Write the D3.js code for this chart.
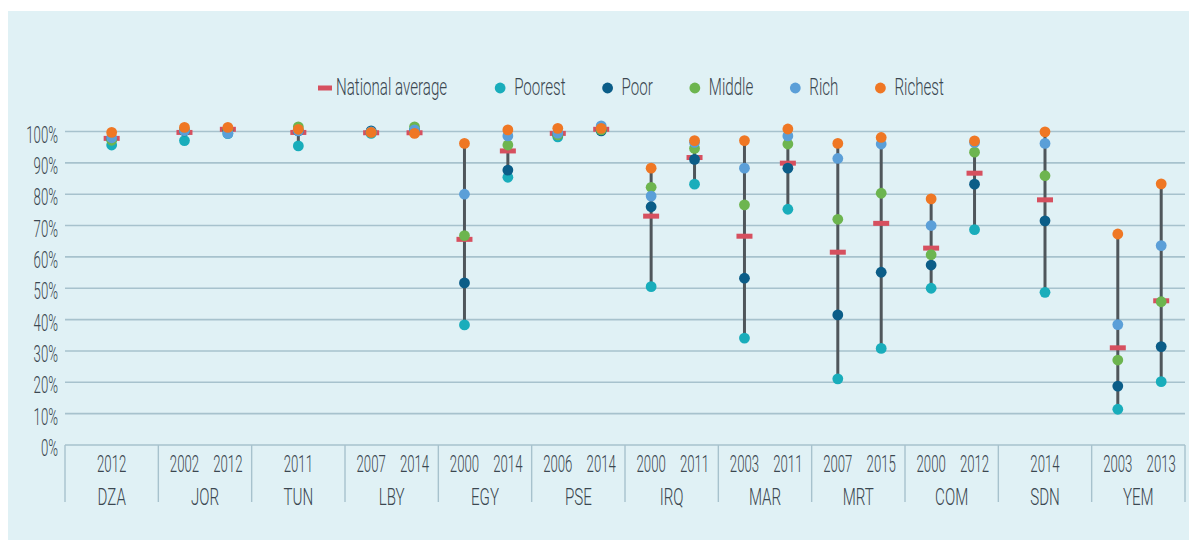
<!DOCTYPE html>
<html>
<head>
<meta charset="utf-8">
<script src="https://cdn.jsdelivr.net/npm/d3@7"></script>
<style>
  html, body { margin: 0; padding: 0; background: #ffffff; }
  svg { display: block; }
  text { font-family: Roboto, "Liberation Sans", sans-serif; font-weight: 300; fill: #3b4750; }
</style>
</head>
<body>
<svg id="chart" width="1189" height="543"></svg>
<script>
// ---------- DATA ----------
const countries = ["DZA","JOR","TUN","LBY","EGY","PSE","IRQ","MAR","MRT","COM","SDN","YEM"];
const countryYears = [["2012"],["2002","2012"],["2011"],["2007","2014"],["2000","2014"],["2006","2014"],
                      ["2000","2011"],["2003","2011"],["2007","2015"],["2000","2012"],["2014"],["2003","2013"]];
// survey order: DZA2012, JOR2002, JOR2012, TUN2011, LBY2007, LBY2014, EGY2000, EGY2014, PSE2006, PSE2014,
// IRQ2000, IRQ2011, MAR2003, MAR2011, MRT2007, MRT2015, COM2000, COM2012, SDN2014, YEM2003, YEM2013
const nationalAverage = [97.8, 99.7, 100.7, 99.7, 99.6, 99.6, 65.6, 93.8, 99.4, 100.7, 73.0, 91.7, 66.6, 89.9, 61.5, 70.7, 62.8, 86.7, 78.2, 31.0, 46.0];
const poorest = [95.7, 97.1, 99.3, 95.4, 99.4, 100.3, 38.3, 85.4, 98.3, 100.5, 50.5, 83.2, 34.1, 75.2, 21.1, 30.8, 50.0, 68.7, 48.7, 11.4, 20.2];
const poor    = [97.5, 100.2, 100.3, 100.2, 100.2, 100.4, 51.7, 87.7, 99.0, 100.2, 76.0, 91.1, 53.2, 88.3, 41.5, 55.1, 57.4, 83.2, 71.5, 18.8, 31.4];
const middle  = [97.2, 100.4, 100.6, 101.5, 99.8, 101.5, 66.8, 95.7, 98.9, 100.5, 82.2, 94.6, 76.6, 96.0, 72.0, 80.3, 60.7, 93.4, 85.9, 27.1, 45.7];
const rich    = [98.0, 100.3, 99.4, 100.2, 99.9, 100.5, 80.0, 98.6, 99.5, 101.8, 79.4, 96.5, 88.3, 98.6, 91.4, 96.0, 70.0, 96.5, 96.2, 38.4, 63.6];
const richest = [99.7, 101.3, 101.3, 100.7, 99.7, 99.4, 96.2, 100.5, 101.0, 101.0, 88.3, 97.1, 97.1, 100.8, 96.2, 98.1, 78.5, 97.0, 99.9, 67.3, 83.3];
const yTicks = [0,10,20,30,40,50,60,70,80,90,100];
const legendLabels = ["National average","Poorest","Poor","Middle","Rich","Richest"];

// ---------- STYLE ----------
const groupColors = {Poorest:"#19adbb", Poor:"#0b5d88", Middle:"#6db54f", Rich:"#5b9fd8", Richest:"#ef7724"};
const avgColor = "#d6505f";
const gridColor = "#a7c2cd";
const SX = 0.63;    // horizontal condensing of word text
const SXN = 0.55;   // horizontal condensing of numeric text
const FS = 24;

const svg = d3.select("#chart");
svg.append("rect").attr("x",8).attr("y",11).attr("width",1181).attr("height",529).attr("fill","#e0f1f5");

const plotLeft = 65, plotRight = 1185, plotTop = 131.5, plotBottom = 445;
const x = d3.scaleBand().domain(countries).range([plotLeft, plotRight]).padding(0);
const y = d3.scaleLinear().domain([0,100]).range([plotBottom, plotTop]);

// build surveys
const surveys = [];
let k = 0;
countries.forEach((c, i) => {
  countryYears[i].forEach(yr => {
    surveys.push({country:c, year:yr, nat:nationalAverage[k],
      vals:{Poorest:poorest[k], Poor:poor[k], Middle:middle[k], Rich:rich[k], Richest:richest[k]}});
    k++;
  });
});
function sx(s) {
  const yrs = countryYears[countries.indexOf(s.country)];
  const b0 = x(s.country), bw = x.bandwidth();
  if (yrs.length === 1) return b0 + bw/2;
  const inner = d3.scalePoint().domain(yrs).range([b0 + bw*0.28, b0 + bw*0.745]);
  return inner(s.year);
}

function label(parent, tx, ty, str, anchor, scaleX) {
  return parent.append("g").attr("transform", `translate(${tx},${ty})`)
    .append("text").attr("transform", `scale(${scaleX || SX},1)`)
    .attr("text-anchor", anchor).attr("dominant-baseline","central")
    .style("font-size", FS + "px").text(str);
}

// gridlines
const grid = svg.append("g");
yTicks.forEach(t => {
  grid.append("line").attr("x1", plotLeft).attr("x2", plotRight).attr("y1", y(t)).attr("y2", y(t))
    .attr("stroke", gridColor).attr("stroke-width", 1.6);
});
// y labels
yTicks.forEach(t => label(svg, 58, y(t) + 3, t + "%", "end", SXN));

// x separators
const seps = countries.map(c => x(c)).concat([plotRight]);
seps.forEach(sxp => {
  svg.append("line").attr("x1", sxp).attr("x2", sxp).attr("y1", plotBottom).attr("y2", 502)
    .attr("stroke", gridColor).attr("stroke-width", 1.4);
});
// x labels
surveys.forEach(s => label(svg, sx(s), 463.5, s.year, "middle", SXN));
countries.forEach(c => label(svg, x(c) + x.bandwidth()/2, 497, c, "middle"));

// range lines
const marks = svg.append("g");
surveys.forEach(s => {
  const all = Object.values(s.vals).concat([s.nat]);
  marks.append("line").attr("x1", sx(s)).attr("x2", sx(s))
    .attr("y1", y(d3.min(all))).attr("y2", y(d3.max(all)))
    .attr("stroke", "#4f565b").attr("stroke-width", 3);
});
// national average bars
surveys.forEach(s => {
  marks.append("rect").attr("x", sx(s) - 8).attr("y", y(s.nat) - 2.5)
    .attr("width", 16).attr("height", 5).attr("fill", avgColor);
});
// dots
["Poorest","Poor","Middle","Rich","Richest"].forEach(g => {
  marks.selectAll(null).data(surveys).enter().append("circle")
    .attr("cx", d => sx(d)).attr("cy", d => y(d.vals[g])).attr("r", 5.4)
    .attr("fill", groupColors[g]);
});

// legend
const leg = svg.append("g");
let lx = 318;
const ly = 88;
legendLabels.forEach((name, i) => {
  if (i === 0) {
    leg.append("rect").attr("x", lx).attr("y", ly - 2.5).attr("width", 14).attr("height", 5).attr("fill", avgColor);
    const t = label(leg, lx + 18, ly - 1, name, "start");
    lx = lx + 18 + t.node().getComputedTextLength() * SX + 53;
  } else {
    leg.append("circle").attr("cx", lx).attr("cy", ly).attr("r", 5.4).attr("fill", groupColors[name]);
    const t = label(leg, lx + 14, ly - 1, name, "start");
    lx = lx + 14 + t.node().getComputedTextLength() * SX + 42;
  }
});
</script>
</body>
</html>
